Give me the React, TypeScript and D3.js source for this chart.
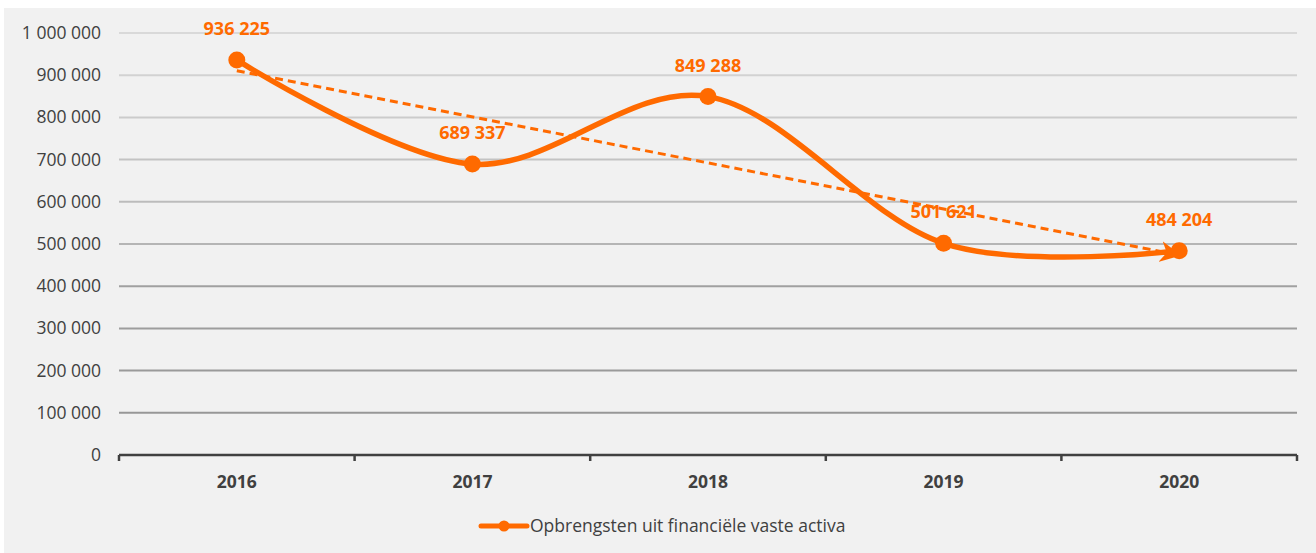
import React, { useEffect, useRef } from "react";
import * as d3 from "d3";

const years = ["2016", "2017", "2018", "2019", "2020"];
const values = [936225, 689337, 849288, 501621, 484204];
const yTicks = [0, 100000, 200000, 300000, 400000, 500000, 600000, 700000, 800000, 900000, 1000000];
const seriesName = "Opbrengsten uit financiële vaste activa";

const ORANGE = "#ff6a00";
const FONT = "'Open Sans', 'Noto Sans', sans-serif";

const fmt = (v: number) => d3.format(",")(v).replace(/,/g, " ");

export default function App() {
  const svgRef = useRef<SVGSVGElement | null>(null);

  useEffect(() => {
    document.body.style.margin = "0";
    if (!svgRef.current) return;
    const svg = d3.select(svgRef.current);
    svg.selectAll("*").remove();

    const W = 1316;
    const H = 553;
    const plot = { left: 119, right: 1297, top: 33, bottom: 455 };

    svg.append("rect").attr("x", 4).attr("y", 8).attr("width", W - 4).attr("height", H - 8).attr("fill", "#f1f1f1");

    const x = d3.scaleBand<string>().domain(years).range([plot.left, plot.right]);
    const y = d3.scaleLinear().domain([0, 1000000]).range([plot.bottom, plot.top]);
    const cx = (i: number) => (x(years[i]) as number) + x.bandwidth() / 2;

    // gridlines (darker toward the bottom, as in the source)
    const gridColor = d3.scaleLinear<string>().domain([1000000, 500000, 400000, 100000]).range(["#d9d9d9", "#b5b5b5", "#a0a0a0", "#979797"]);
    yTicks.filter((t) => t > 0).forEach((t) => {
      svg.append("line")
        .attr("x1", plot.left).attr("x2", plot.right)
        .attr("y1", y(t)).attr("y2", y(t))
        .attr("stroke", gridColor(t)).attr("stroke-width", 2);
    });

    // y tick labels
    yTicks.forEach((t) => {
      svg.append("text")
        .attr("x", 101).attr("y", y(t) + 6)
        .attr("text-anchor", "end")
        .attr("font-family", FONT).attr("font-size", 17.5).attr("fill", "#404040")
        .attr("textLength", null)
        .text(fmt(t));
    });

    // x axis
    svg.append("line")
      .attr("x1", plot.left).attr("x2", plot.right)
      .attr("y1", plot.bottom).attr("y2", plot.bottom)
      .attr("stroke", "#404040").attr("stroke-width", 2.5);
    const bounds = years.map((yr) => x(yr) as number).concat([plot.right]);
    bounds.forEach((b) => {
      svg.append("line")
        .attr("x1", b).attr("x2", b)
        .attr("y1", plot.bottom).attr("y2", plot.bottom + 6)
        .attr("stroke", "#404040").attr("stroke-width", 2.5);
    });
    years.forEach((yr, i) => {
      svg.append("text")
        .attr("x", cx(i)).attr("y", 488)
        .attr("text-anchor", "middle")
        .attr("font-family", FONT).attr("font-size", 17.5).attr("font-weight", "bold").attr("fill", "#404040")
        .text(yr);
    });

    // linear trendline
    const n = values.length;
    const xm = d3.mean(d3.range(n)) as number;
    const ym = d3.mean(values) as number;
    const slope = d3.sum(values.map((v, i) => (i - xm) * (v - ym))) / d3.sum(d3.range(n).map((i) => (i - xm) ** 2));
    const icpt = ym - slope * xm;
    const defs = svg.append("defs");
    defs.append("marker")
      .attr("id", "arrow").attr("viewBox", "0 0 10 10")
      .attr("refX", 9).attr("refY", 5)
      .attr("markerWidth", 7).attr("markerHeight", 7)
      .attr("markerUnits", "strokeWidth")
      .attr("orient", "auto")
      .append("path").attr("d", "M0,0 L10,5 L0,10 L3,5 Z").attr("fill", ORANGE);
    svg.append("line")
      .attr("x1", cx(0)).attr("y1", y(icpt))
      .attr("x2", cx(n - 1)).attr("y2", y(icpt + slope * (n - 1)))
      .attr("stroke", ORANGE).attr("stroke-width", 3)
      .attr("stroke-dasharray", "8 5")
      .attr("marker-end", "url(#arrow)");

    // smoothed series line
    const line = d3.line<number>()
      .x((_, i) => cx(i))
      .y((d) => y(d))
      .curve(d3.curveCatmullRom.alpha(0));
    svg.append("path")
      .datum(values)
      .attr("d", line)
      .attr("fill", "none").attr("stroke", ORANGE).attr("stroke-width", 5.5)
      .attr("stroke-linecap", "round");

    values.forEach((v, i) => {
      svg.append("circle").attr("cx", cx(i)).attr("cy", y(v)).attr("r", 8.5).attr("fill", ORANGE);
      svg.append("text")
        .attr("x", cx(i)).attr("y", y(v) - 25)
        .attr("text-anchor", "middle")
        .attr("font-family", FONT).attr("font-size", 18).attr("font-weight", "bold").attr("fill", ORANGE)
        .text(fmt(v));
    });

    // legend
    svg.append("line")
      .attr("x1", 481).attr("x2", 527).attr("y1", 526).attr("y2", 526)
      .attr("stroke", ORANGE).attr("stroke-width", 5).attr("stroke-linecap", "round");
    svg.append("circle").attr("cx", 504).attr("cy", 526).attr("r", 5.5).attr("fill", ORANGE);
    svg.append("text")
      .attr("x", 530).attr("y", 532)
      .attr("font-family", FONT).attr("font-size", 17.5).attr("fill", "#404040")
      .text(seriesName);
  }, []);

  return <svg ref={svgRef} width={1316} height={553} style={{ display: "block" }} />;
}
